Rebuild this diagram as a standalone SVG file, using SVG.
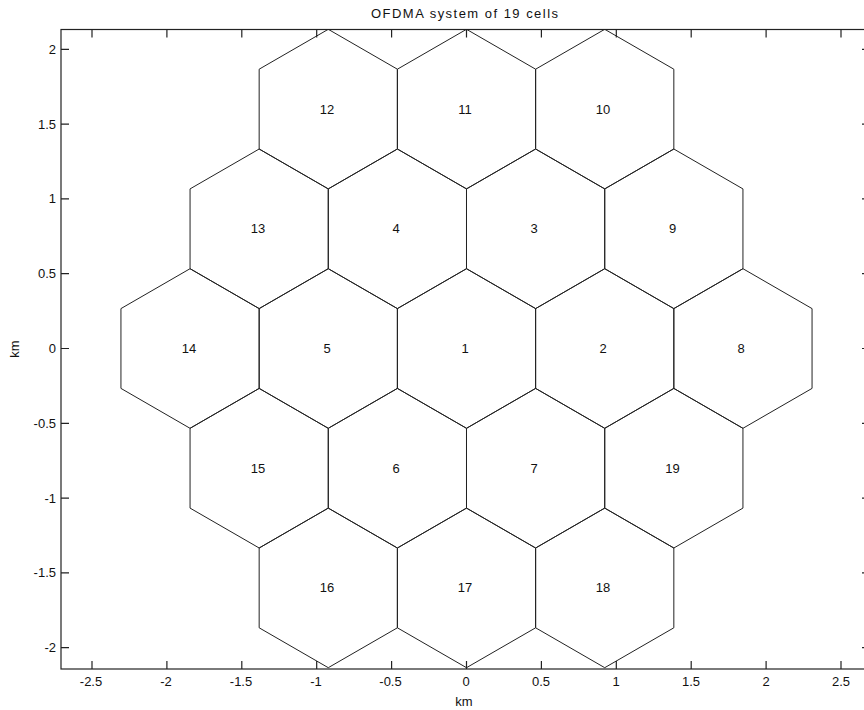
<svg xmlns="http://www.w3.org/2000/svg" xmlns:xlink="http://www.w3.org/1999/xlink" width="864" height="710" viewBox="0 0 864 710">
<style>
text{font-family:"Liberation Sans",Arial,sans-serif;fill:#111}
.tick{font-size:13px}
.yt{text-anchor:end}
.xt{text-anchor:middle}
.lbl{font-size:13px;text-anchor:middle}
.hex{fill:none;stroke:#222;stroke-width:1}
.ax{fill:none;stroke:#222;stroke-width:1.2}
.tk{stroke:#222;stroke-width:1.2}
</style>
<defs>
<path id="hex" class="hex" d="M0,-79.8 L69.11,-39.9 L69.11,39.9 L0,79.8 L-69.11,39.9 L-69.11,-39.9 Z"/>
<clipPath id="clip"><rect x="61" y="29.5" width="809" height="639.5"/></clipPath>
</defs>
<rect width="864" height="710" fill="#fff"/>
<text x="464.5" y="18" font-size="13" text-anchor="middle" textLength="187" lengthAdjust="spacing">OFDMA system of 19 cells</text>
<g id="axes">
<rect class="ax" x="61" y="29.5" width="809" height="639.5"/>
<g class="tk">
<path d="M92,669v-8M166.9,669v-8M241.8,669v-8M316.7,669v-8M391.6,669v-8M466.5,669v-8M541.4,669v-8M616.3,669v-8M691.2,669v-8M766.1,669v-8M841,669v-8"/>
<path d="M92,29.5v8M166.9,29.5v8M241.8,29.5v8M316.7,29.5v8M391.6,29.5v8M466.5,29.5v8M541.4,29.5v8M616.3,29.5v8M691.2,29.5v8M766.1,29.5v8M841,29.5v8"/>
<path d="M61,49.3h8M61,124.1h8M61,198.9h8M61,273.7h8M61,348.5h8M61,423.3h8M61,498.1h8M61,572.9h8M61,647.7h8"/>
<path d="M870,49.3h-8M870,124.1h-8M870,198.9h-8M870,273.7h-8M870,348.5h-8M870,423.3h-8M870,498.1h-8M870,572.9h-8M870,647.7h-8"/>
</g>
<g class="tick yt">
<text x="56" y="53.8">2</text>
<text x="56" y="128.6">1.5</text>
<text x="56" y="203.4">1</text>
<text x="56" y="278.2">0.5</text>
<text x="56" y="353">0</text>
<text x="56" y="427.8">-0.5</text>
<text x="56" y="502.6">-1</text>
<text x="56" y="577.4">-1.5</text>
<text x="56" y="652.2">-2</text>
</g>
<g class="tick xt">
<text x="91" y="686">-2.5</text>
<text x="166" y="686">-2</text>
<text x="241" y="686">-1.5</text>
<text x="316" y="686">-1</text>
<text x="390.5" y="686">-0.5</text>
<text x="466" y="686">0</text>
<text x="541" y="686">0.5</text>
<text x="616" y="686">1</text>
<text x="691" y="686">1.5</text>
<text x="766" y="686">2</text>
<text x="841" y="686">2.5</text>
</g>
<text x="464" y="706" font-size="13" text-anchor="middle">km</text>
<text transform="translate(19,349) rotate(-90)" font-size="13" text-anchor="middle">km</text>
</g>
<g id="cells" clip-path="url(#clip)">
<g id="cell1"><use xlink:href="#hex" x="466.5" y="348.5"/><text class="lbl" x="465" y="353">1</text></g>
<g id="cell2"><use xlink:href="#hex" x="604.72" y="348.5"/><text class="lbl" x="603" y="353">2</text></g>
<g id="cell3"><use xlink:href="#hex" x="535.61" y="228.8"/><text class="lbl" x="534" y="233.3">3</text></g>
<g id="cell4"><use xlink:href="#hex" x="397.39" y="228.8"/><text class="lbl" x="396" y="233.3">4</text></g>
<g id="cell5"><use xlink:href="#hex" x="328.28" y="348.5"/><text class="lbl" x="327" y="353">5</text></g>
<g id="cell6"><use xlink:href="#hex" x="397.39" y="468.2"/><text class="lbl" x="396" y="472.7">6</text></g>
<g id="cell7"><use xlink:href="#hex" x="535.61" y="468.2"/><text class="lbl" x="534" y="472.7">7</text></g>
<g id="cell8"><use xlink:href="#hex" x="742.94" y="348.5"/><text class="lbl" x="741" y="353">8</text></g>
<g id="cell9"><use xlink:href="#hex" x="673.83" y="228.8"/><text class="lbl" x="672.5" y="233.3">9</text></g>
<g id="cell10"><use xlink:href="#hex" x="604.72" y="109.1"/><text class="lbl" x="603" y="113.6">10</text></g>
<g id="cell11"><use xlink:href="#hex" x="466.5" y="109.1"/><text class="lbl" x="465" y="113.6">11</text></g>
<g id="cell12"><use xlink:href="#hex" x="328.28" y="109.1"/><text class="lbl" x="327" y="113.6">12</text></g>
<g id="cell13"><use xlink:href="#hex" x="259.17" y="228.8"/><text class="lbl" x="258" y="233.3">13</text></g>
<g id="cell14"><use xlink:href="#hex" x="190.06" y="348.5"/><text class="lbl" x="189" y="353">14</text></g>
<g id="cell15"><use xlink:href="#hex" x="259.17" y="468.2"/><text class="lbl" x="258" y="472.7">15</text></g>
<g id="cell16"><use xlink:href="#hex" x="328.28" y="587.9"/><text class="lbl" x="327" y="592.4">16</text></g>
<g id="cell17"><use xlink:href="#hex" x="466.5" y="587.9"/><text class="lbl" x="465" y="592.4">17</text></g>
<g id="cell18"><use xlink:href="#hex" x="604.72" y="587.9"/><text class="lbl" x="603" y="592.4">18</text></g>
<g id="cell19"><use xlink:href="#hex" x="673.83" y="468.2"/><text class="lbl" x="672.5" y="472.7">19</text></g>
</g>
</svg>
